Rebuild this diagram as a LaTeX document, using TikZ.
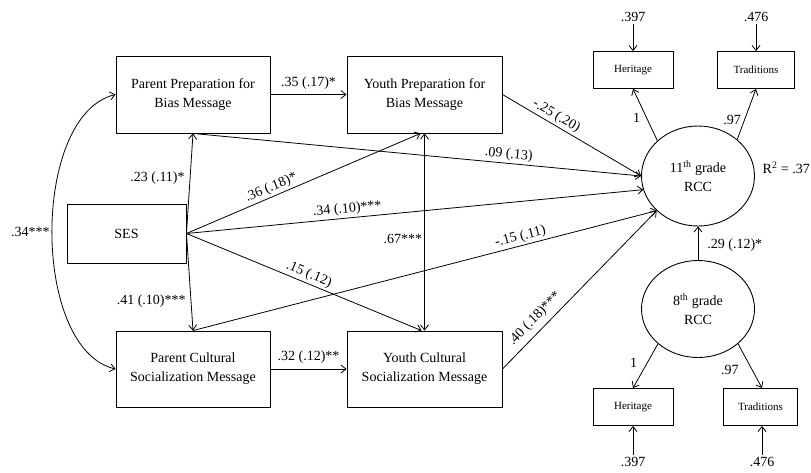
\documentclass[tikz,border=0pt]{standalone}
\usepackage{fontspec}
\setmainfont{Liberation Serif}
\usetikzlibrary{arrows.meta,shapes.geometric,calc}
\begin{document}
\begin{tikzpicture}[x=1pt,y=-1pt,
  font=\fontsize{14}{19}\selectfont,
  box/.style={draw,line width=0.9pt,align=center,inner sep=0pt},
  smallbox/.style={draw,line width=0.9pt,font=\fontsize{11}{12}\selectfont,inner sep=0pt,minimum height=37pt},
  lat/.style={draw,ellipse,line width=0.9pt,align=center,inner sep=0pt,minimum width=113pt},
  arr/.style={-{Straight Barb[length=5pt,width=8pt]},line width=0.8pt},
  barr/.style={{Straight Barb[length=5pt,width=8pt]}-{Straight Barb[length=5pt,width=8pt]},line width=0.8pt},
  lbl/.style={font=\fontsize{14}{15}\selectfont,inner sep=2pt}]
\useasboundingbox (0,0) rectangle (811,472);
% observed boxes
\node[box,minimum width=154pt,minimum height=77pt] (ppb) at (193,94.5) {Parent Preparation for\\Bias Message};
\node[box,minimum width=155pt,minimum height=77pt] (ypb) at (424.5,94.5) {Youth Preparation for\\Bias Message};
\node[box,minimum width=119pt,minimum height=59pt] (ses) at (126.5,233.5) {SES};
\node[box,minimum width=154pt,minimum height=76pt] (pcs) at (193,369) {Parent Cultural\\Socialization Message};
\node[box,minimum width=155pt,minimum height=76pt] (ycs) at (424.5,369) {Youth Cultural\\Socialization Message};
% latent variables
\node[lat,minimum height=100pt] (r11) at (698,176) {11\textsuperscript{th} grade\\RCC};
\node[lat,minimum height=97pt] (r8) at (698,309) {8\textsuperscript{th} grade\\RCC};
\node[anchor=east,lbl,inner sep=1pt] (r2) at (811,168) {R\textsuperscript{2} = .37};
% indicators
\node[smallbox,minimum width=80pt] (h1) at (633,70) {Heritage};
\node[smallbox,minimum width=77pt] (t1) at (756,70) {Traditions};
\node[smallbox,minimum width=80pt] (h2) at (633,407) {Heritage};
\node[smallbox,minimum width=74pt] (t2) at (760.5,407) {Traditions};
% error terms
\node[lbl] (e1) at (633,17) {.397};
\node[lbl] (e2) at (756,17) {.476};
\node[lbl] (e3) at (633,462) {.397};
\node[lbl] (e4) at (762,462) {.476};
\draw[arr] (e1) -- (h1);
\draw[arr] (e2) -- (t1);
\draw[arr] (e3) -- (h2);
\draw[arr] (e4) -- ([xshift=1.5pt]t2.south);
% loadings
\draw[arr] (r11.139) -- node[lbl,left=4pt,pos=0.44] {1} (h1.south);
\draw[arr] (r11.43) -- node[lbl,left=1pt,pos=0.38] {.97} (t1.south);
\draw[arr] (r8.221) -- node[lbl,left=8pt,pos=0.42] {1} (h2.north);
\draw[arr] (r8.319) -- node[lbl,left=11pt,pos=0.58] {.97} ([xshift=1.5pt]t2.north);
\draw[arr] (r8.north) -- node[lbl,right=7pt,pos=0.45] {.29 (.12)*} (r11.south);
% paths
\draw[arr] (ppb.east) -- node[lbl,above=3pt] {.35 (.17)*} (ypb.west);
\draw[arr] (pcs.east) -- node[lbl,above=3pt] {.32 (.12)**} (ycs.west);
\draw[barr] (ppb.west) .. controls (31,115) and (31,349) .. node[lbl,left,pos=0.5] {.34***} (pcs.west);
\draw[arr] (ses.east) -- node[lbl,left=3pt,pos=0.55] {.23 (.11)*} (ppb.south);
\draw[arr] (ses.east) -- node[lbl,left=3pt,pos=0.70] {.41 (.10)***} (pcs.north);
\draw[arr] (ses.east) -- node[lbl,sloped,above,pos=0.377] {.36 (.18)*} ([xshift=-4pt]ypb.south);
\draw[arr] (ses.east) -- node[lbl,sloped,above,pos=0.507] {.15 (.12)} ([xshift=-3pt]ycs.north);
\draw[arr] (ses.east) -- node[lbl,sloped,above,pos=0.354] {.34 (.10)***} (r11.194);
\draw[barr] (ypb.south) -- node[lbl,left,pos=0.535] {.67***} (ycs.north);
\draw[arr] (ppb.south) -- node[lbl,sloped,above,pos=0.703] {.09 (.13)} (r11.180);
\draw[arr] (ypb.east) -- node[lbl,sloped,above,pos=0.357] {-.25 (.20)} (r11.180);
\draw[arr] (pcs.north) -- node[lbl,sloped,above,pos=0.711] {-.15 (.11)} (r11.220);
\draw[arr] (ycs.east) -- node[lbl,sloped,above=3pt,pos=0.265] {.40 (.18)***} (r11.220);
\end{tikzpicture}
\end{document}
